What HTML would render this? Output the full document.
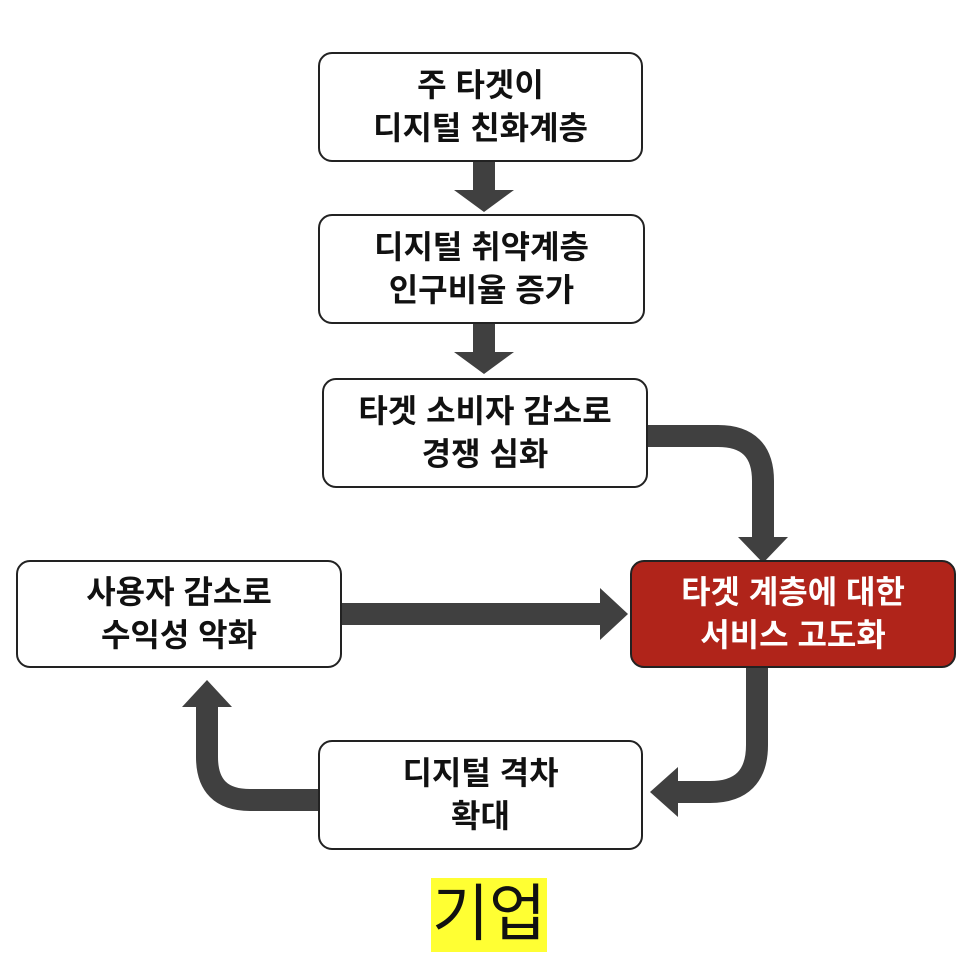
<!DOCTYPE html>
<html><head><meta charset="utf-8"><style>
body{margin:0;width:978px;height:962px;background:#fff;overflow:hidden;position:relative;font-family:"Liberation Sans","Noto Sans CJK KR",sans-serif}
.b{position:absolute;box-sizing:border-box;border:2px solid #222;border-radius:14px;background:#fff;display:flex;align-items:center;justify-content:center;text-align:center;font-weight:bold;font-size:32px;line-height:43px;color:#111}
.r{background:#b0241a;color:#fff;border-color:#222}
.l{position:absolute;left:431px;top:878px;width:116px;height:74px;background:#ffff33;font-size:62px;line-height:74px;text-align:center;color:#111}
svg{position:absolute;left:0;top:0}
</style></head><body>
<svg width="978" height="962">
<g fill="none" stroke="#404040" stroke-width="22">
<path d="M484,162V192"/><path d="M484,324V354"/>
<path d="M648,436H718Q763,436 763,481V538"/>
<path d="M342,614H602"/>
<path d="M757,668V745Q757,792 710,792H676"/>
<path d="M318,800H250Q207,800 207,757V705"/>
</g>
<g fill="#404040">
<polygon points="454,190 514,190 484,212"/>
<polygon points="454,352 514,352 484,374"/>
<polygon points="738,537 788,537 763,563"/>
<polygon points="600,588 600,640 628,614"/>
<polygon points="678,767 678,817 650,792"/>
<polygon points="182,707 232,707 207,680"/>
</g>
</svg>
<div class="b" style="left:318px;top:52px;width:325px;height:110px">주 타겟이<br>디지털 친화계층</div>
<div class="b" style="left:318px;top:214px;width:327px;height:110px">디지털 취약계층<br>인구비율 증가</div>
<div class="b" style="left:322px;top:378px;width:326px;height:110px">타겟 소비자 감소로<br>경쟁 심화</div>
<div class="b r" style="left:630px;top:560px;width:326px;height:108px">타겟 계층에 대한<br>서비스 고도화</div>
<div class="b" style="left:16px;top:560px;width:326px;height:108px">사용자 감소로<br>수익성 악화</div>
<div class="b" style="left:318px;top:740px;width:325px;height:110px">디지털 격차<br>확대</div>
<div class="l">기업</div>
</body></html>
